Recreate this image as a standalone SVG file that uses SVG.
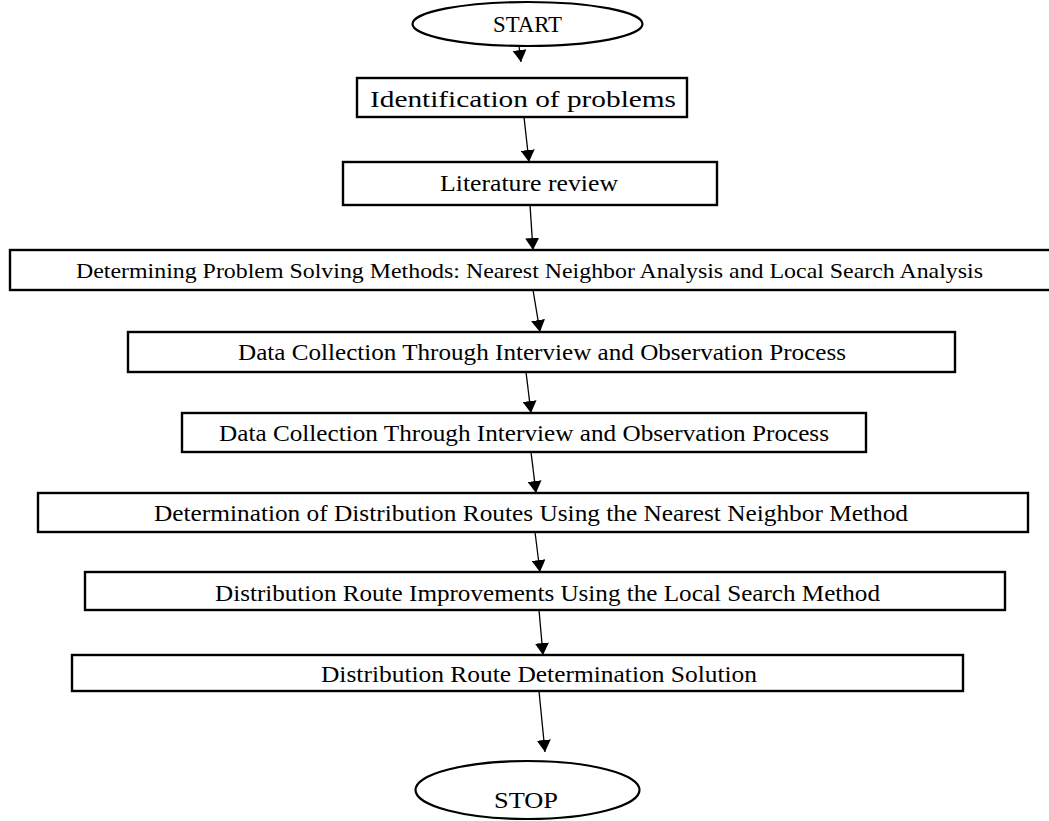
<svg xmlns="http://www.w3.org/2000/svg" width="1049" height="821" viewBox="0 0 1049 821">
<style>
.box{fill:#fff;stroke:#000;stroke-width:2.4}
.term{fill:#fff;stroke:#000;stroke-width:2.2}
.t{font-family:"Liberation Serif","Times New Roman",serif;font-size:23px;fill:#000}
.tt{font-family:"Liberation Serif","Times New Roman",serif;font-size:22px;fill:#000}
.conn{stroke:#000;stroke-width:1.3;fill:none;marker-end:url(#ah)}
</style>
<defs>
<marker id="ah" markerWidth="12" markerHeight="14" refX="12" refY="7" orient="auto" markerUnits="userSpaceOnUse">
<path d="M0,0 L12,7 L0,14 Z" fill="#000"/>
</marker>
</defs>
<rect width="1049" height="821" fill="#fff"/>
<g id="start">
<ellipse class="term" cx="527.5" cy="24" rx="115" ry="22"/>
<text class="t" x="493" y="32" textLength="69" lengthAdjust="spacingAndGlyphs">START</text>
</g>
<g id="n1">
<rect class="box" x="357" y="78" width="330" height="39"/>
<text class="t" x="370" y="107" textLength="306" lengthAdjust="spacingAndGlyphs">Identification of problems</text>
</g>
<g id="n2">
<rect class="box" x="343" y="162" width="374" height="43"/>
<text class="t" x="440" y="191" textLength="178" lengthAdjust="spacingAndGlyphs">Literature review</text>
</g>
<g id="n3">
<rect class="box" x="10" y="250" width="1050" height="40"/>
<text class="tt" x="76" y="278" textLength="907" lengthAdjust="spacingAndGlyphs">Determining Problem Solving Methods: Nearest Neighbor Analysis and Local Search Analysis</text>
</g>
<g id="n4">
<rect class="box" x="128" y="332" width="827" height="40"/>
<text class="t" x="238" y="360" textLength="608" lengthAdjust="spacingAndGlyphs">Data Collection Through Interview and Observation Process</text>
</g>
<g id="n5">
<rect class="box" x="182" y="413" width="684" height="39"/>
<text class="t" x="219" y="441" textLength="610" lengthAdjust="spacingAndGlyphs">Data Collection Through Interview and Observation Process</text>
</g>
<g id="n6">
<rect class="box" x="38" y="493" width="990" height="39"/>
<text class="t" x="154" y="521" textLength="754" lengthAdjust="spacingAndGlyphs">Determination of Distribution Routes Using the Nearest Neighbor Method</text>
</g>
<g id="n7">
<rect class="box" x="85" y="572" width="920" height="38"/>
<text class="t" x="215" y="601" textLength="665" lengthAdjust="spacingAndGlyphs">Distribution Route Improvements Using the Local Search Method</text>
</g>
<g id="n8">
<rect class="box" x="72" y="655" width="891" height="36"/>
<text class="t" x="321" y="682" textLength="436" lengthAdjust="spacingAndGlyphs">Distribution Route Determination Solution</text>
</g>
<g id="stop">
<ellipse class="term" cx="527.5" cy="790" rx="112" ry="29"/>
<text class="t" x="494" y="808" textLength="64" lengthAdjust="spacingAndGlyphs">STOP</text>
</g>
<g id="connectors">
<path class="conn" d="M519,46 L521,62"/>
<path class="conn" d="M524,117 L529,162"/>
<path class="conn" d="M530,205 L533,250"/>
<path class="conn" d="M533,290 L540,332"/>
<path class="conn" d="M526,372 L531,413"/>
<path class="conn" d="M531,452 L536,493"/>
<path class="conn" d="M535,532 L540,572"/>
<path class="conn" d="M539,610 L543,655"/>
<path class="conn" d="M539,691 L545,752"/>
</g>
</svg>
